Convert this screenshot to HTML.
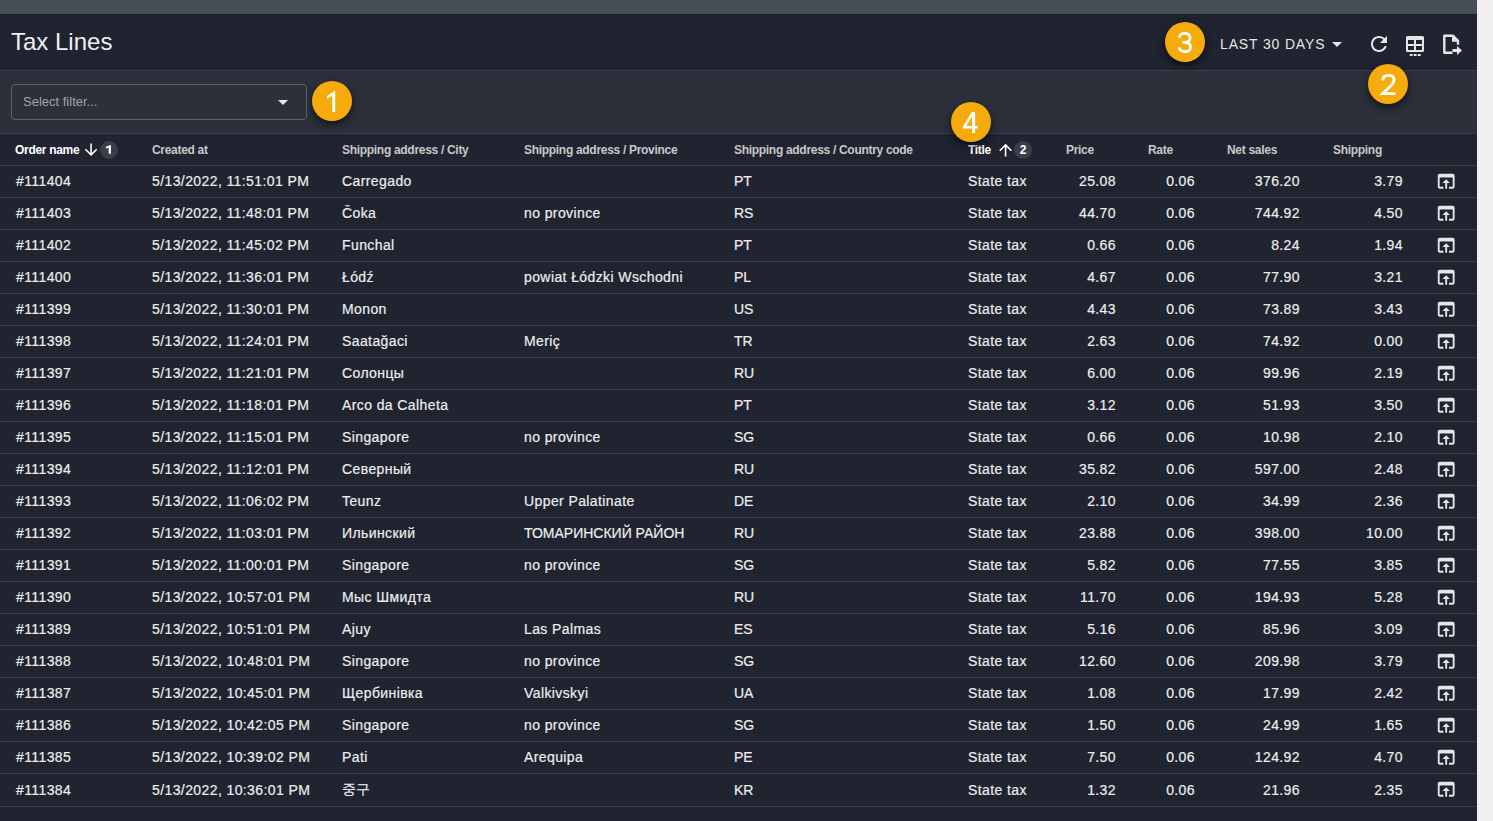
<!DOCTYPE html>
<html><head><meta charset="utf-8"><style>
html,body{margin:0;padding:0;}
body{width:1493px;height:821px;overflow:hidden;background:#f0f0f0;font-family:"Liberation Sans",sans-serif;position:relative;}
.app{position:absolute;left:0;top:0;width:1477px;height:821px;background:#1f2430;overflow:hidden;}
.topbar{position:absolute;left:0;top:0;width:100%;height:14px;background:#474d55;}
.sh1{position:absolute;left:0;top:14px;width:100%;height:1px;background:#1b2029;}
.sh2{position:absolute;left:0;top:15px;width:100%;height:3px;background:#20252f;}
.sh3{position:absolute;left:0;top:18px;width:100%;height:1px;background:#1c212b;}
.title{position:absolute;left:11px;top:28px;font-size:24px;line-height:28px;color:#f0f0f0;white-space:nowrap;}
.datebtn{position:absolute;left:1220px;top:36px;font-size:14px;line-height:16px;color:#e6e6e6;letter-spacing:0.85px;white-space:nowrap;}
.dtri{position:absolute;left:1332px;top:42px;}
.ftri{position:absolute;left:278px;top:100px;}
.ic{position:absolute;}
.filterbg{position:absolute;left:0;top:71px;width:100%;height:62px;background:#2b303b;}
.sep{position:absolute;left:0;width:100%;height:1px;background:#393e48;}
.filter{position:absolute;left:11px;top:84px;width:294px;height:34px;border:1px solid #5d636b;border-radius:4px;}
.filter span{position:absolute;left:11px;top:9px;font-size:13px;line-height:15px;color:#a0a3a8;white-space:nowrap;}
.th{position:absolute;top:143px;font-size:12px;line-height:14px;font-weight:bold;color:#c8c8c8;white-space:nowrap;letter-spacing:-0.3px;}
.th.act{color:#fff;}
.badge{position:absolute;top:142px;width:18px;text-align:center;font-size:12px;line-height:16px;font-weight:bold;color:#fff;}
.row{position:absolute;left:0;width:100%;}
.td{position:absolute;top:7px;font-size:14px;line-height:16px;color:#ededed;letter-spacing:0.4px;white-space:nowrap;-webkit-text-stroke:0.2px #ededed;}
.td.num{width:200px;text-align:right;}
.oi{position:absolute;left:1434.6px;top:4.4px;}
.anno{position:absolute;width:40px;height:40px;border-radius:50%;background:#f6ab0c;box-shadow:0 3px 5px -1px rgba(0,0,0,0.35),0 5px 8px 0 rgba(0,0,0,0.28),0 1px 12px 0 rgba(0,0,0,0.14);}
.anno svg{position:absolute;left:0;top:0;}

</style></head><body>
<div class="app"><div class="topbar"></div><div class="sh1"></div><div class="sh2"></div><div class="sh3"></div><div class="title">Tax Lines</div><div class="datebtn">LAST 30 DAYS</div><svg class="dtri" width="10" height="5" viewBox="0 0 10 5"><path d="M0 0L10 0L5 5z" fill="#e6e6e6"/></svg><svg class="ic" style="left:1367px;top:32px" width="24" height="24" viewBox="0 0 24 24"><path fill="#e6e6e6" d="M17.65 6.35C16.2 4.9 14.21 4 12 4c-4.42 0-7.99 3.58-7.99 8s3.57 8 7.99 8c3.73 0 6.84-2.55 7.73-6h-2.08c-.82 2.33-3.04 4-5.65 4-3.31 0-6-2.69-6-6s2.69-6 6-6c1.66 0 3.14.69 4.22 1.78L13 11h7V4l-2.35 2.35z"/></svg><svg class="ic" style="left:0;top:0" width="1493" height="80" viewBox="0 0 1493 80"><path fill="#e6e6e6" fill-rule="evenodd" d="M1407.5 36h15a1.5 1.5 0 0 1 1.5 1.5v13a1.5 1.5 0 0 1 -1.5 1.5h-15a1.5 1.5 0 0 1 -1.5 -1.5v-13a1.5 1.5 0 0 1 1.5 -1.5z M1408 40h6v4h-6z M1416 40h6v4h-6z M1408 46h6v4h-6z M1416 46h6v4h-6z"/><rect x="1409.8" y="54" width="2.8" height="2" fill="#e6e6e6"/><rect x="1413.8" y="54" width="2.8" height="2" fill="#e6e6e6"/><rect x="1417.8" y="54" width="2.8" height="2" fill="#e6e6e6"/><path fill="none" stroke="#e6e6e6" stroke-width="2.4" stroke-linejoin="round" d="M1452.5 52.8H1444.3V35.8H1453L1458 40.8V44.8"/><path fill="#e6e6e6" d="M1452 35H1453.5L1459 40.5V41.7H1452z"/><path fill="#e6e6e6" d="M1452.5 49H1457V46L1462 50.5L1457 55V52H1452.5z"/></svg><div class="filterbg"></div><div class="sep" style="top:70px"></div><div class="sep" style="top:133px"></div><div class="sep" style="top:165px"></div><div class="filter"><span>Select filter...</span></div><svg class="ftri" width="10" height="5" viewBox="0 0 10 5"><path d="M0 0L10 0L5 5z" fill="#e6e6e6"/></svg><div class="th act" style="left:15px">Order name</div><div class="th" style="left:152px">Created at</div><div class="th" style="left:342px">Shipping address / City</div><div class="th" style="left:524px">Shipping address / Province</div><div class="th" style="left:734px">Shipping address / Country code</div><div class="th act" style="left:968px">Title</div><div class="th" style="left:1066px">Price</div><div class="th" style="left:1148px">Rate</div><div class="th" style="left:1227px">Net sales</div><div class="th" style="left:1333px">Shipping</div><svg class="ic" style="left:0;top:134px" width="1493" height="32" viewBox="0 134 1493 32"><path fill="#fff" transform="translate(81.7 140.4) scale(0.78)" d="M20 12l-1.41-1.41L13 16.17V4h-2v12.17l-5.58-5.59L4 12l8 8 8-8z"/><path fill="#fff" transform="translate(996 140.6) scale(0.8)" d="M4 12l1.41 1.41L11 7.83V20h2V7.83l5.58 5.59L20 12l-8-8-8 8z"/><circle cx="109" cy="150" r="9" fill="#393e47"/><circle cx="1023" cy="150" r="9" fill="#393e47"/></svg><svg class="ic" style="left:0;top:0" width="1493" height="170" viewBox="0 0 1493 170"><path fill="#fff" d="M110.9 145V153.8H108.7V147.7L105.9 148.6V146.8L110.6 145z"/></svg><div class="badge" style="left:1014px">2</div><div class="row" style="top:166px;height:31px"><div class="td" style="left:16px">#111404</div><div class="td" style="left:152px">5/13/2022, 11:51:01 PM</div><div class="td" style="left:342px">Carregado</div><div class="td" style="left:524px"></div><div class="td" style="left:734px;letter-spacing:0">PT</div><div class="td" style="left:968px">State tax</div><div class="td num" style="left:916px">25.08</div><div class="td num" style="left:995px">0.06</div><div class="td num" style="left:1100px">376.20</div><div class="td num" style="left:1203px">3.79</div><svg class="oi" width="22.4" height="22.4" viewBox="0 0 24 24"><path fill="#e6e6e6" d="M19 4H5c-1.11 0-2 .9-2 2v12c0 1.1.89 2 2 2h4v-2H5V8h14v10h-4v2h4c1.1 0 2-.9 2-2V6c0-1.1-.89-2-2-2zm-7 6l-4 4h3v6h2v-6h3l-4-4z"/></svg></div><div class="sep" style="top:197px"></div><div class="row" style="top:198px;height:31px"><div class="td" style="left:16px">#111403</div><div class="td" style="left:152px">5/13/2022, 11:48:01 PM</div><div class="td" style="left:342px">Čoka</div><div class="td" style="left:524px">no province</div><div class="td" style="left:734px;letter-spacing:0">RS</div><div class="td" style="left:968px">State tax</div><div class="td num" style="left:916px">44.70</div><div class="td num" style="left:995px">0.06</div><div class="td num" style="left:1100px">744.92</div><div class="td num" style="left:1203px">4.50</div><svg class="oi" width="22.4" height="22.4" viewBox="0 0 24 24"><path fill="#e6e6e6" d="M19 4H5c-1.11 0-2 .9-2 2v12c0 1.1.89 2 2 2h4v-2H5V8h14v10h-4v2h4c1.1 0 2-.9 2-2V6c0-1.1-.89-2-2-2zm-7 6l-4 4h3v6h2v-6h3l-4-4z"/></svg></div><div class="sep" style="top:229px"></div><div class="row" style="top:230px;height:31px"><div class="td" style="left:16px">#111402</div><div class="td" style="left:152px">5/13/2022, 11:45:02 PM</div><div class="td" style="left:342px">Funchal</div><div class="td" style="left:524px"></div><div class="td" style="left:734px;letter-spacing:0">PT</div><div class="td" style="left:968px">State tax</div><div class="td num" style="left:916px">0.66</div><div class="td num" style="left:995px">0.06</div><div class="td num" style="left:1100px">8.24</div><div class="td num" style="left:1203px">1.94</div><svg class="oi" width="22.4" height="22.4" viewBox="0 0 24 24"><path fill="#e6e6e6" d="M19 4H5c-1.11 0-2 .9-2 2v12c0 1.1.89 2 2 2h4v-2H5V8h14v10h-4v2h4c1.1 0 2-.9 2-2V6c0-1.1-.89-2-2-2zm-7 6l-4 4h3v6h2v-6h3l-4-4z"/></svg></div><div class="sep" style="top:261px"></div><div class="row" style="top:262px;height:31px"><div class="td" style="left:16px">#111400</div><div class="td" style="left:152px">5/13/2022, 11:36:01 PM</div><div class="td" style="left:342px">Łódź</div><div class="td" style="left:524px">powiat Łódzki Wschodni</div><div class="td" style="left:734px;letter-spacing:0">PL</div><div class="td" style="left:968px">State tax</div><div class="td num" style="left:916px">4.67</div><div class="td num" style="left:995px">0.06</div><div class="td num" style="left:1100px">77.90</div><div class="td num" style="left:1203px">3.21</div><svg class="oi" width="22.4" height="22.4" viewBox="0 0 24 24"><path fill="#e6e6e6" d="M19 4H5c-1.11 0-2 .9-2 2v12c0 1.1.89 2 2 2h4v-2H5V8h14v10h-4v2h4c1.1 0 2-.9 2-2V6c0-1.1-.89-2-2-2zm-7 6l-4 4h3v6h2v-6h3l-4-4z"/></svg></div><div class="sep" style="top:293px"></div><div class="row" style="top:294px;height:31px"><div class="td" style="left:16px">#111399</div><div class="td" style="left:152px">5/13/2022, 11:30:01 PM</div><div class="td" style="left:342px">Monon</div><div class="td" style="left:524px"></div><div class="td" style="left:734px;letter-spacing:0">US</div><div class="td" style="left:968px">State tax</div><div class="td num" style="left:916px">4.43</div><div class="td num" style="left:995px">0.06</div><div class="td num" style="left:1100px">73.89</div><div class="td num" style="left:1203px">3.43</div><svg class="oi" width="22.4" height="22.4" viewBox="0 0 24 24"><path fill="#e6e6e6" d="M19 4H5c-1.11 0-2 .9-2 2v12c0 1.1.89 2 2 2h4v-2H5V8h14v10h-4v2h4c1.1 0 2-.9 2-2V6c0-1.1-.89-2-2-2zm-7 6l-4 4h3v6h2v-6h3l-4-4z"/></svg></div><div class="sep" style="top:325px"></div><div class="row" style="top:326px;height:31px"><div class="td" style="left:16px">#111398</div><div class="td" style="left:152px">5/13/2022, 11:24:01 PM</div><div class="td" style="left:342px">Saatağaci</div><div class="td" style="left:524px">Meriç</div><div class="td" style="left:734px;letter-spacing:0">TR</div><div class="td" style="left:968px">State tax</div><div class="td num" style="left:916px">2.63</div><div class="td num" style="left:995px">0.06</div><div class="td num" style="left:1100px">74.92</div><div class="td num" style="left:1203px">0.00</div><svg class="oi" width="22.4" height="22.4" viewBox="0 0 24 24"><path fill="#e6e6e6" d="M19 4H5c-1.11 0-2 .9-2 2v12c0 1.1.89 2 2 2h4v-2H5V8h14v10h-4v2h4c1.1 0 2-.9 2-2V6c0-1.1-.89-2-2-2zm-7 6l-4 4h3v6h2v-6h3l-4-4z"/></svg></div><div class="sep" style="top:357px"></div><div class="row" style="top:358px;height:31px"><div class="td" style="left:16px">#111397</div><div class="td" style="left:152px">5/13/2022, 11:21:01 PM</div><div class="td" style="left:342px">Солонцы</div><div class="td" style="left:524px"></div><div class="td" style="left:734px;letter-spacing:0">RU</div><div class="td" style="left:968px">State tax</div><div class="td num" style="left:916px">6.00</div><div class="td num" style="left:995px">0.06</div><div class="td num" style="left:1100px">99.96</div><div class="td num" style="left:1203px">2.19</div><svg class="oi" width="22.4" height="22.4" viewBox="0 0 24 24"><path fill="#e6e6e6" d="M19 4H5c-1.11 0-2 .9-2 2v12c0 1.1.89 2 2 2h4v-2H5V8h14v10h-4v2h4c1.1 0 2-.9 2-2V6c0-1.1-.89-2-2-2zm-7 6l-4 4h3v6h2v-6h3l-4-4z"/></svg></div><div class="sep" style="top:389px"></div><div class="row" style="top:390px;height:31px"><div class="td" style="left:16px">#111396</div><div class="td" style="left:152px">5/13/2022, 11:18:01 PM</div><div class="td" style="left:342px">Arco da Calheta</div><div class="td" style="left:524px"></div><div class="td" style="left:734px;letter-spacing:0">PT</div><div class="td" style="left:968px">State tax</div><div class="td num" style="left:916px">3.12</div><div class="td num" style="left:995px">0.06</div><div class="td num" style="left:1100px">51.93</div><div class="td num" style="left:1203px">3.50</div><svg class="oi" width="22.4" height="22.4" viewBox="0 0 24 24"><path fill="#e6e6e6" d="M19 4H5c-1.11 0-2 .9-2 2v12c0 1.1.89 2 2 2h4v-2H5V8h14v10h-4v2h4c1.1 0 2-.9 2-2V6c0-1.1-.89-2-2-2zm-7 6l-4 4h3v6h2v-6h3l-4-4z"/></svg></div><div class="sep" style="top:421px"></div><div class="row" style="top:422px;height:31px"><div class="td" style="left:16px">#111395</div><div class="td" style="left:152px">5/13/2022, 11:15:01 PM</div><div class="td" style="left:342px">Singapore</div><div class="td" style="left:524px">no province</div><div class="td" style="left:734px;letter-spacing:0">SG</div><div class="td" style="left:968px">State tax</div><div class="td num" style="left:916px">0.66</div><div class="td num" style="left:995px">0.06</div><div class="td num" style="left:1100px">10.98</div><div class="td num" style="left:1203px">2.10</div><svg class="oi" width="22.4" height="22.4" viewBox="0 0 24 24"><path fill="#e6e6e6" d="M19 4H5c-1.11 0-2 .9-2 2v12c0 1.1.89 2 2 2h4v-2H5V8h14v10h-4v2h4c1.1 0 2-.9 2-2V6c0-1.1-.89-2-2-2zm-7 6l-4 4h3v6h2v-6h3l-4-4z"/></svg></div><div class="sep" style="top:453px"></div><div class="row" style="top:454px;height:31px"><div class="td" style="left:16px">#111394</div><div class="td" style="left:152px">5/13/2022, 11:12:01 PM</div><div class="td" style="left:342px">Северный</div><div class="td" style="left:524px"></div><div class="td" style="left:734px;letter-spacing:0">RU</div><div class="td" style="left:968px">State tax</div><div class="td num" style="left:916px">35.82</div><div class="td num" style="left:995px">0.06</div><div class="td num" style="left:1100px">597.00</div><div class="td num" style="left:1203px">2.48</div><svg class="oi" width="22.4" height="22.4" viewBox="0 0 24 24"><path fill="#e6e6e6" d="M19 4H5c-1.11 0-2 .9-2 2v12c0 1.1.89 2 2 2h4v-2H5V8h14v10h-4v2h4c1.1 0 2-.9 2-2V6c0-1.1-.89-2-2-2zm-7 6l-4 4h3v6h2v-6h3l-4-4z"/></svg></div><div class="sep" style="top:485px"></div><div class="row" style="top:486px;height:31px"><div class="td" style="left:16px">#111393</div><div class="td" style="left:152px">5/13/2022, 11:06:02 PM</div><div class="td" style="left:342px">Teunz</div><div class="td" style="left:524px">Upper Palatinate</div><div class="td" style="left:734px;letter-spacing:0">DE</div><div class="td" style="left:968px">State tax</div><div class="td num" style="left:916px">2.10</div><div class="td num" style="left:995px">0.06</div><div class="td num" style="left:1100px">34.99</div><div class="td num" style="left:1203px">2.36</div><svg class="oi" width="22.4" height="22.4" viewBox="0 0 24 24"><path fill="#e6e6e6" d="M19 4H5c-1.11 0-2 .9-2 2v12c0 1.1.89 2 2 2h4v-2H5V8h14v10h-4v2h4c1.1 0 2-.9 2-2V6c0-1.1-.89-2-2-2zm-7 6l-4 4h3v6h2v-6h3l-4-4z"/></svg></div><div class="sep" style="top:517px"></div><div class="row" style="top:518px;height:31px"><div class="td" style="left:16px">#111392</div><div class="td" style="left:152px">5/13/2022, 11:03:01 PM</div><div class="td" style="left:342px">Ильинский</div><div class="td" style="left:524px;letter-spacing:0">ТОМАРИНСКИЙ РАЙОН</div><div class="td" style="left:734px;letter-spacing:0">RU</div><div class="td" style="left:968px">State tax</div><div class="td num" style="left:916px">23.88</div><div class="td num" style="left:995px">0.06</div><div class="td num" style="left:1100px">398.00</div><div class="td num" style="left:1203px">10.00</div><svg class="oi" width="22.4" height="22.4" viewBox="0 0 24 24"><path fill="#e6e6e6" d="M19 4H5c-1.11 0-2 .9-2 2v12c0 1.1.89 2 2 2h4v-2H5V8h14v10h-4v2h4c1.1 0 2-.9 2-2V6c0-1.1-.89-2-2-2zm-7 6l-4 4h3v6h2v-6h3l-4-4z"/></svg></div><div class="sep" style="top:549px"></div><div class="row" style="top:550px;height:31px"><div class="td" style="left:16px">#111391</div><div class="td" style="left:152px">5/13/2022, 11:00:01 PM</div><div class="td" style="left:342px">Singapore</div><div class="td" style="left:524px">no province</div><div class="td" style="left:734px;letter-spacing:0">SG</div><div class="td" style="left:968px">State tax</div><div class="td num" style="left:916px">5.82</div><div class="td num" style="left:995px">0.06</div><div class="td num" style="left:1100px">77.55</div><div class="td num" style="left:1203px">3.85</div><svg class="oi" width="22.4" height="22.4" viewBox="0 0 24 24"><path fill="#e6e6e6" d="M19 4H5c-1.11 0-2 .9-2 2v12c0 1.1.89 2 2 2h4v-2H5V8h14v10h-4v2h4c1.1 0 2-.9 2-2V6c0-1.1-.89-2-2-2zm-7 6l-4 4h3v6h2v-6h3l-4-4z"/></svg></div><div class="sep" style="top:581px"></div><div class="row" style="top:582px;height:31px"><div class="td" style="left:16px">#111390</div><div class="td" style="left:152px">5/13/2022, 10:57:01 PM</div><div class="td" style="left:342px">Мыс Шмидта</div><div class="td" style="left:524px"></div><div class="td" style="left:734px;letter-spacing:0">RU</div><div class="td" style="left:968px">State tax</div><div class="td num" style="left:916px">11.70</div><div class="td num" style="left:995px">0.06</div><div class="td num" style="left:1100px">194.93</div><div class="td num" style="left:1203px">5.28</div><svg class="oi" width="22.4" height="22.4" viewBox="0 0 24 24"><path fill="#e6e6e6" d="M19 4H5c-1.11 0-2 .9-2 2v12c0 1.1.89 2 2 2h4v-2H5V8h14v10h-4v2h4c1.1 0 2-.9 2-2V6c0-1.1-.89-2-2-2zm-7 6l-4 4h3v6h2v-6h3l-4-4z"/></svg></div><div class="sep" style="top:613px"></div><div class="row" style="top:614px;height:31px"><div class="td" style="left:16px">#111389</div><div class="td" style="left:152px">5/13/2022, 10:51:01 PM</div><div class="td" style="left:342px">Ajuy</div><div class="td" style="left:524px">Las Palmas</div><div class="td" style="left:734px;letter-spacing:0">ES</div><div class="td" style="left:968px">State tax</div><div class="td num" style="left:916px">5.16</div><div class="td num" style="left:995px">0.06</div><div class="td num" style="left:1100px">85.96</div><div class="td num" style="left:1203px">3.09</div><svg class="oi" width="22.4" height="22.4" viewBox="0 0 24 24"><path fill="#e6e6e6" d="M19 4H5c-1.11 0-2 .9-2 2v12c0 1.1.89 2 2 2h4v-2H5V8h14v10h-4v2h4c1.1 0 2-.9 2-2V6c0-1.1-.89-2-2-2zm-7 6l-4 4h3v6h2v-6h3l-4-4z"/></svg></div><div class="sep" style="top:645px"></div><div class="row" style="top:646px;height:31px"><div class="td" style="left:16px">#111388</div><div class="td" style="left:152px">5/13/2022, 10:48:01 PM</div><div class="td" style="left:342px">Singapore</div><div class="td" style="left:524px">no province</div><div class="td" style="left:734px;letter-spacing:0">SG</div><div class="td" style="left:968px">State tax</div><div class="td num" style="left:916px">12.60</div><div class="td num" style="left:995px">0.06</div><div class="td num" style="left:1100px">209.98</div><div class="td num" style="left:1203px">3.79</div><svg class="oi" width="22.4" height="22.4" viewBox="0 0 24 24"><path fill="#e6e6e6" d="M19 4H5c-1.11 0-2 .9-2 2v12c0 1.1.89 2 2 2h4v-2H5V8h14v10h-4v2h4c1.1 0 2-.9 2-2V6c0-1.1-.89-2-2-2zm-7 6l-4 4h3v6h2v-6h3l-4-4z"/></svg></div><div class="sep" style="top:677px"></div><div class="row" style="top:678px;height:31px"><div class="td" style="left:16px">#111387</div><div class="td" style="left:152px">5/13/2022, 10:45:01 PM</div><div class="td" style="left:342px">Щербинівка</div><div class="td" style="left:524px">Valkivskyi</div><div class="td" style="left:734px;letter-spacing:0">UA</div><div class="td" style="left:968px">State tax</div><div class="td num" style="left:916px">1.08</div><div class="td num" style="left:995px">0.06</div><div class="td num" style="left:1100px">17.99</div><div class="td num" style="left:1203px">2.42</div><svg class="oi" width="22.4" height="22.4" viewBox="0 0 24 24"><path fill="#e6e6e6" d="M19 4H5c-1.11 0-2 .9-2 2v12c0 1.1.89 2 2 2h4v-2H5V8h14v10h-4v2h4c1.1 0 2-.9 2-2V6c0-1.1-.89-2-2-2zm-7 6l-4 4h3v6h2v-6h3l-4-4z"/></svg></div><div class="sep" style="top:709px"></div><div class="row" style="top:710px;height:31px"><div class="td" style="left:16px">#111386</div><div class="td" style="left:152px">5/13/2022, 10:42:05 PM</div><div class="td" style="left:342px">Singapore</div><div class="td" style="left:524px">no province</div><div class="td" style="left:734px;letter-spacing:0">SG</div><div class="td" style="left:968px">State tax</div><div class="td num" style="left:916px">1.50</div><div class="td num" style="left:995px">0.06</div><div class="td num" style="left:1100px">24.99</div><div class="td num" style="left:1203px">1.65</div><svg class="oi" width="22.4" height="22.4" viewBox="0 0 24 24"><path fill="#e6e6e6" d="M19 4H5c-1.11 0-2 .9-2 2v12c0 1.1.89 2 2 2h4v-2H5V8h14v10h-4v2h4c1.1 0 2-.9 2-2V6c0-1.1-.89-2-2-2zm-7 6l-4 4h3v6h2v-6h3l-4-4z"/></svg></div><div class="sep" style="top:741px"></div><div class="row" style="top:742px;height:31px"><div class="td" style="left:16px">#111385</div><div class="td" style="left:152px">5/13/2022, 10:39:02 PM</div><div class="td" style="left:342px">Pati</div><div class="td" style="left:524px">Arequipa</div><div class="td" style="left:734px;letter-spacing:0">PE</div><div class="td" style="left:968px">State tax</div><div class="td num" style="left:916px">7.50</div><div class="td num" style="left:995px">0.06</div><div class="td num" style="left:1100px">124.92</div><div class="td num" style="left:1203px">4.70</div><svg class="oi" width="22.4" height="22.4" viewBox="0 0 24 24"><path fill="#e6e6e6" d="M19 4H5c-1.11 0-2 .9-2 2v12c0 1.1.89 2 2 2h4v-2H5V8h14v10h-4v2h4c1.1 0 2-.9 2-2V6c0-1.1-.89-2-2-2zm-7 6l-4 4h3v6h2v-6h3l-4-4z"/></svg></div><div class="sep" style="top:773px"></div><div class="row" style="top:774px;height:32px"><div class="td" style="left:16px;top:8px">#111384</div><div class="td" style="left:152px;top:8px">5/13/2022, 10:36:01 PM</div><div class="td" style="left:342px;letter-spacing:0">중구</div><div class="td" style="left:524px;top:8px"></div><div class="td" style="left:734px;top:8px;letter-spacing:0">KR</div><div class="td" style="left:968px;top:8px">State tax</div><div class="td num" style="left:916px;top:8px">1.32</div><div class="td num" style="left:995px;top:8px">0.06</div><div class="td num" style="left:1100px;top:8px">21.96</div><div class="td num" style="left:1203px;top:8px">2.35</div><svg class="oi" width="22.4" height="22.4" viewBox="0 0 24 24"><path fill="#e6e6e6" d="M19 4H5c-1.11 0-2 .9-2 2v12c0 1.1.89 2 2 2h4v-2H5V8h14v10h-4v2h4c1.1 0 2-.9 2-2V6c0-1.1-.89-2-2-2zm-7 6l-4 4h3v6h2v-6h3l-4-4z"/></svg></div><div class="sep" style="top:806px"></div><div class="anno" style="left:312px;top:81px"><svg width="40" height="40" viewBox="-20 -20 40 40"><path fill="#fff" d="M3.2 -10.3V11H0.2V-5.6L-5.1 -1.9V-5.0L2.9 -10.3z"/></svg></div><div class="anno" style="left:1368px;top:64px"><svg width="40" height="40" viewBox="-20 -20 40 40"><path fill="none" transform="translate(0.8 0)" stroke="#fff" stroke-width="2.8" d="M-6 -3.6C-6 -7.2 -3.5 -8.6 -0.2 -8.6C3.2 -8.6 5.3 -6.8 5.3 -4.2C5.3 -2.4 4.4 -1 2.9 0.7L-6.1 9.6H6.7"/></svg></div><div class="anno" style="left:1165px;top:22px"><svg width="40" height="40" viewBox="-20 -20 40 40"><path fill="none" stroke="#fff" stroke-width="2.8" d="M-5.7 -4.3C-5.7 -7.1 -3.3 -8.6 -0.3 -8.6C2.9 -8.6 5.1 -7 5.1 -4.1C5.1 -1.4 3 0.3 -0.1 0.3H-2.7M-0.1 0.3C3.5 0.3 5.5 2.2 5.5 4.9C5.5 7.9 3.1 9.6 -0.2 9.6C-3.4 9.6 -5.8 8 -5.8 5.2"/></svg></div><div class="anno" style="left:951px;top:102px"><svg width="40" height="40" viewBox="-20 -20 40 40"><path fill="#fff" fill-rule="evenodd" d="M1.0 -10H4.1V3.9H6.8V6.6H4.1V10.9H1.0V6.6H-8.1V4.6L0.9 -10zM1.0 -5.4L-4.7 3.9H1.0z"/></svg></div></div>
</body></html>
